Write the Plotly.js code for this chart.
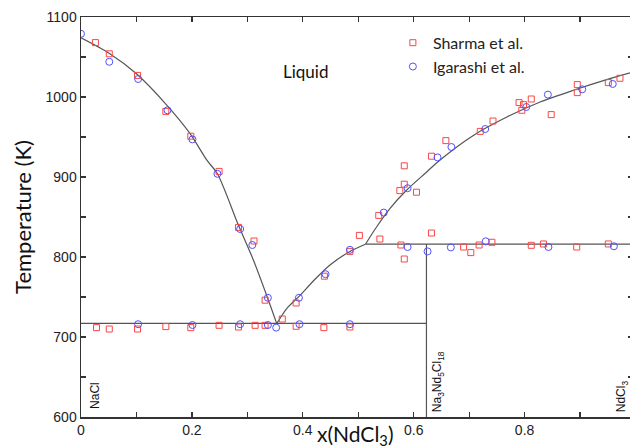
<!DOCTYPE html>
<html>
<head>
<meta charset="utf-8">
<script src="https://cdn.plot.ly/plotly-3.0.1.min.js"></script>
<style>
html,body{margin:0;padding:0;overflow:hidden;background:#fff;}
#chart{width:634px;height:448px;}
</style>
</head>
<body>
<div id="chart"></div>
<script>
// ---- Experimental data: Sharma et al. (red squares) ----
const sharmaX = [0.026, 0.051, 0.102, 0.153, 0.198, 0.249, 0.284, 0.312, 0.332, 0.363, 0.388, 0.439, 0.485, 0.502, 0.539, 0.537, 0.583, 0.583, 0.575, 0.605, 0.632, 0.658, 0.720, 0.743, 0.790, 0.798, 0.795, 0.812, 0.848, 0.895, 0.895, 0.951, 0.972,
  0.028, 0.051, 0.102, 0.153, 0.198, 0.249, 0.284, 0.314, 0.332, 0.388, 0.438, 0.485,
  0.577, 0.583, 0.632, 0.690, 0.703, 0.718, 0.741, 0.812, 0.834, 0.894, 0.951];
const sharmaT = [1068, 1054, 1027, 982, 951, 907, 837, 820, 746, 722.5, 742.5, 776, 807, 827, 822.5, 852, 914, 891, 883, 881, 926, 945.5, 957, 970, 993, 990.5, 983.4, 997.5, 978, 1015.5, 1005.5, 1018, 1023.4,
  711.7, 710, 710, 713, 711.7, 714.6, 712.5, 714.6, 714.6, 713.4, 711.7, 712.5,
  815, 797.5, 830, 812.5, 805.5, 815, 818.4, 814.6, 816.3, 812.5, 816.3];

// ---- Experimental data: Igarashi et al. (blue circles) ----
const igarashiX = [0.0, 0.051, 0.103, 0.156, 0.201, 0.246, 0.287, 0.309, 0.337, 0.352, 0.393, 0.441, 0.485, 0.546, 0.589, 0.643, 0.668, 0.729, 0.803, 0.842, 0.904, 0.959,
  0.103, 0.201, 0.287, 0.337, 0.394, 0.485,
  0.589, 0.625, 0.667, 0.730, 0.843, 0.961];
const igarashiT = [1079, 1044, 1022.5, 983.4, 947, 904, 835, 815, 749, 711.7, 749, 778.5, 809, 855.5, 886, 924.5, 937.5, 960, 987.5, 1003, 1009.6, 1016.3,
  716, 715, 716, 715, 716, 716,
  812.5, 807, 812, 819.6, 812.5, 813.4];

// ---- Calculated phase boundaries ----
const liqLeftX = [0, 0.05, 0.1, 0.155, 0.197, 0.227, 0.246, 0.284, 0.311, 0.338, 0.353];
const liqLeftT = [1074, 1055, 1029, 989.6, 954, 921, 904, 839.6, 796, 746, 716.75];
const liqMidX = [0.353, 0.371, 0.395, 0.419, 0.449, 0.485, 0.513];
const liqMidT = [716.75, 735.5, 752, 770, 790, 807, 816];
const liqRightX = [0.513, 0.533, 0.557, 0.587, 0.623, 0.647, 0.7075, 0.768, 0.828, 0.888, 0.948, 0.995];
const liqRightT = [816, 837.5, 860.5, 883.4, 906, 921, 952, 975, 993.75, 1008.4, 1021.75, 1031];
const eutecticX = [0, 0.623];
const eutecticT = [717, 717];
const peritecticX = [0.513, 0.995];
const peritecticT = [816, 816];
const compoundX = [0.623, 0.623];
const compoundT = [816, 600];

// ---- Axis ticks & labels ----
const xTickVals = [0, 0.2, 0.4, 0.6, 0.8];
const xTickText = ["0", "0.2", "0.4", "0.6", "0.8"];
const yTickVals = [600, 700, 800, 900, 1000, 1100];
const yTickText = ["600", "700", "800", "900", "1000", "1100"];

const lineColor = '#555555';
const lineStyle = {color: lineColor, width: 1.2};

function lineTrace(x, y, shape) {
  return {x: x, y: y, type: 'scatter', mode: 'lines', line: Object.assign({shape: shape || 'linear', smoothing: 0.8}, lineStyle), showlegend: false, hoverinfo: 'skip'};
}

const traces = [
  lineTrace(liqLeftX, liqLeftT, 'spline'),
  lineTrace(liqMidX, liqMidT, 'spline'),
  lineTrace(liqRightX, liqRightT, 'spline'),
  lineTrace(eutecticX, eutecticT),
  lineTrace(peritecticX, peritecticT),
  lineTrace(compoundX, compoundT),
  {x: sharmaX, y: sharmaT, type: 'scatter', mode: 'markers', name: 'Sharma et al.',
   marker: {symbol: 'square-open', size: 6, color: 'rgb(250,70,70)', line: {width: 1, color: 'rgb(250,70,70)'}}},
  {x: igarashiX, y: igarashiT, type: 'scatter', mode: 'markers', name: 'Igarashi et al.',
   marker: {symbol: 'circle-open', size: 7, color: 'rgb(80,80,250)', line: {width: 1, color: 'rgb(80,80,250)'}}}
];

const axisCommon = {
  showline: true, linecolor: '#333', linewidth: 1.5, mirror: 'ticks',
  ticks: 'inside', ticklen: 5, tickcolor: '#333', tickwidth: 1.2,
  showgrid: false, zeroline: false,
  tickfont: {family: 'Liberation Sans, Arial, sans-serif', size: 14, color: '#222'}
};

const layout = {
  width: 634, height: 448,
  margin: {l: 81, r: 1, t: 17, b: 31},
  paper_bgcolor: '#fff', plot_bgcolor: '#fff',
  showlegend: true,
  legend: {x: 0.565, y: 0.978, xanchor: 'left', yanchor: 'top', bgcolor: 'rgba(0,0,0,0)',
           font: {family: 'Lato, sans-serif', size: 16, color: '#222'}, itemwidth: 30, tracegroupgap: 0},
  xaxis: Object.assign({}, axisCommon, {
    range: [0, 0.9955], tickmode: 'array', tickvals: xTickVals, ticktext: xTickText,
    minor: {dtick: 0.1, tick0: 0, ticks: 'inside', ticklen: 5, tickcolor: '#333'}
  }),
  yaxis: Object.assign({}, axisCommon, {
    range: [600, 1100], tickmode: 'array', tickvals: yTickVals, ticktext: yTickText,
    minor: {dtick: 50, tick0: 600, ticks: 'inside', ticklen: 5, tickcolor: '#333'},
    title: {text: 'Temperature (K)', font: {family: 'Lato, sans-serif', size: 22, color: '#111'}, standoff: 8}
  }),
  annotations: [
    {text: 'x(NdCl<sub>3</sub>)', xref: 'paper', yref: 'paper', x: 0.497, y: -0.045, xanchor: 'center', yanchor: 'middle',
     showarrow: false, font: {family: 'Lato, sans-serif', size: 21, color: '#111'}},
    {text: 'Liquid', xref: 'x', yref: 'y', x: 0.404, y: 1032, showarrow: false,
     font: {family: 'Lato, sans-serif', size: 17, color: '#111'}},
    {text: 'NaCl', xref: 'x', yref: 'y', x: 0.025, y: 608, xanchor: 'center', yanchor: 'bottom', textangle: -90, showarrow: false,
     font: {family: 'Liberation Sans, Arial, sans-serif', size: 12, color: '#111'}},
    {text: 'Na<sub>3</sub>Nd<sub>5</sub>Cl<sub>18</sub>', xref: 'x', yref: 'y', x: 0.644, y: 603, xanchor: 'center', yanchor: 'bottom', textangle: -90, showarrow: false,
     font: {family: 'Liberation Sans, Arial, sans-serif', size: 12, color: '#111'}},
    {text: 'NdCl<sub>3</sub>', xref: 'x', yref: 'y', x: 0.975, y: 603, xanchor: 'center', yanchor: 'bottom', textangle: -90, showarrow: false,
     font: {family: 'Liberation Sans, Arial, sans-serif', size: 12, color: '#111'}}
  ]
};

Plotly.newPlot('chart', traces, layout, {staticPlot: true, displayModeBar: false});
</script>
</body>
</html>
